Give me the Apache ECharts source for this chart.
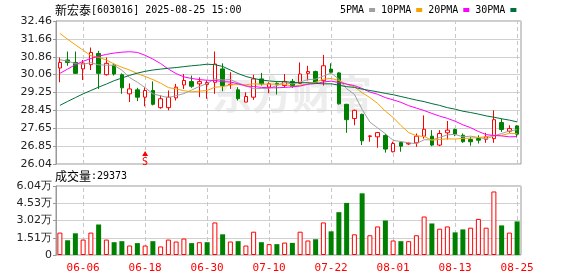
<!DOCTYPE html>
<html><head><meta charset="utf-8">
<script src="https://cdn.jsdelivr.net/npm/echarts@6/dist/echarts.min.js"></script>
<style>html,body{margin:0;padding:0;background:#fff}#c{width:578px;height:276px}</style>
</head><body><div id="c"></div>
<script>
const categories = ['06-03','06-04','06-05','06-06','06-09','06-10','06-11','06-12','06-13','06-16','06-17','06-18','06-19','06-20','06-23','06-24','06-25','06-26','06-27','06-30',
'07-01','07-02','07-03','07-04','07-07','07-08','07-09','07-10','07-11','07-14','07-15','07-16','07-17','07-18','07-21','07-22','07-23','07-24','07-25','07-28','07-29','07-30','07-31',
'08-01','08-04','08-05','08-06','08-07','08-08','08-11','08-12','08-13','08-14','08-15','08-18','08-19','08-20','08-21','08-22','08-25'];
const opens  = [30.35,30.71,30.60,30.31,30.50,31.00,30.05,30.48,30.05,29.19,29.37,29.04,29.34,28.57,28.57,29.01,29.59,29.74,29.64,29.61,29.71,30.31,29.60,29.37,28.82,29.04,29.86,29.49,29.66,29.56,29.75,29.66,30.11,30.19,29.78,30.30,30.13,28.72,28.08,28.27,27.28,27.26,27.32,26.59,27.01,26.94,26.99,27.29,27.29,26.89,27.44,27.59,27.33,27.14,27.18,27.15,27.18,27.90,27.51,27.75];
const closes = [30.60,30.60,30.11,30.57,31.05,30.11,30.56,30.08,29.46,29.41,29.04,29.34,28.72,28.97,29.04,29.49,29.79,29.53,29.74,29.70,30.53,29.56,29.62,28.97,29.07,29.86,29.64,29.64,29.61,29.75,29.52,30.08,30.19,29.71,30.45,30.16,28.74,28.03,28.45,27.08,27.30,27.45,26.71,26.96,26.84,26.97,27.29,27.60,26.89,27.41,27.56,27.38,27.04,27.04,27.11,27.26,28.03,27.59,27.63,27.38];
const lows   = [29.71,30.45,30.08,29.81,30.26,29.41,30.01,30.01,29.19,28.82,28.86,28.63,28.67,28.52,28.45,28.89,29.41,29.46,29.04,28.97,29.19,29.31,29.41,28.89,28.82,28.92,29.56,29.22,29.16,29.46,29.46,29.64,29.79,29.67,29.56,30.11,28.71,27.44,27.78,26.89,27.04,26.77,26.55,26.56,26.59,26.89,26.81,27.18,26.84,26.84,27.14,27.29,26.99,26.86,26.96,26.99,26.99,27.48,27.44,27.23];
const highs  = [30.82,31.09,31.09,30.71,31.27,31.12,30.82,30.56,30.11,29.66,29.46,29.49,29.75,29.12,29.34,29.64,30.08,30.01,29.93,29.79,31.09,30.56,30.16,29.49,29.26,30.05,30.13,29.71,29.71,30.08,29.86,30.60,30.45,30.23,30.94,30.56,30.16,28.74,28.48,28.30,27.33,27.48,27.38,27.04,27.04,27.01,27.41,28.22,27.56,27.56,27.97,27.63,27.41,27.26,27.33,27.44,28.45,28.08,27.78,27.78];
const volumes = [1.96,1.29,1.90,1.35,1.96,2.67,1.35,1.12,1.21,0.83,1.04,0.83,1.21,0.75,1.35,1.18,1.44,1.04,1.12,1.12,2.85,1.81,1.18,1.21,0.83,2.04,1.12,0.95,0.95,1.09,1.06,2.04,1.27,1.38,2.85,2.07,3.75,4.56,1.81,5.40,1.73,2.50,3.02,1.27,1.21,1.21,1.73,3.37,2.76,2.30,2.50,1.98,2.24,2.39,3.16,2.39,5.56,2.59,1.96,2.94];
const volumeUp = [1,0,0,1,1,0,1,0,0,1, 0,1,0,1,1,1,1,0,1,0, 1,0,1,0,1,1,0,1,0,1, 0,1,1,0,1,0,0,0,1,0, 1,1,0,1,0,1,1,1,0,1, 1,0,0,1,1,1,1,0,1,0];
const ma5  = [30.72,30.66,30.55,30.52,30.59,30.49,30.48,30.47,30.25,29.92,29.71,29.47,29.19,29.10,29.02,29.11,29.20,29.36,29.52,29.65,29.86,29.81,29.83,29.68,29.55,29.42,29.43,29.44,29.56,29.70,29.63,29.72,29.83,29.85,29.99,30.12,29.85,29.42,29.17,28.49,27.92,27.66,27.40,27.10,27.05,26.99,26.95,27.13,27.12,27.23,27.35,27.37,27.26,27.29,27.23,27.17,27.30,27.41,27.52,27.58];
const ma10 = [31.90,31.64,31.39,31.15,30.90,30.83,30.71,30.53,30.38,30.26,30.10,29.97,29.83,29.67,29.47,29.41,29.33,29.28,29.31,29.34,29.49,29.51,29.60,29.60,29.60,29.64,29.62,29.63,29.62,29.63,29.52,29.58,29.63,29.71,29.85,29.88,29.79,29.62,29.51,29.24,29.02,28.76,28.41,28.13,27.77,27.45,27.31,27.27,27.11,27.14,27.17,27.16,27.19,27.20,27.23,27.26,27.33,27.33,27.41,27.40];
const ma20 = [30.11,30.30,30.50,30.65,30.78,30.88,30.96,31.02,31.06,31.08,31.05,30.92,30.75,30.55,30.30,30.10,29.95,29.88,29.83,29.80,29.79,29.74,29.72,29.64,29.54,29.52,29.48,29.46,29.46,29.48,29.50,29.54,29.62,29.65,29.72,29.76,29.70,29.63,29.56,29.43,29.27,29.17,29.02,28.92,28.81,28.66,28.55,28.44,28.31,28.19,28.09,27.96,27.80,27.67,27.50,27.36,27.32,27.30,27.26,27.27];
const ma30 = [28.67,28.85,29.02,29.19,29.34,29.49,29.63,29.78,29.90,30.02,30.12,30.20,30.26,30.30,30.34,30.37,30.41,30.45,30.48,30.52,30.50,30.42,30.26,30.10,29.97,29.88,29.81,29.77,29.74,29.74,29.70,29.69,29.69,29.66,29.64,29.64,29.58,29.51,29.48,29.40,29.34,29.28,29.21,29.15,29.07,28.99,28.91,28.84,28.75,28.67,28.57,28.50,28.41,28.35,28.28,28.20,28.14,28.07,28.01,27.93];
const priceTicks = ['26.04','26.85','27.65','28.45','29.25','30.06','30.86','31.66','32.46'];
const volumeTicks = ['0','1.51万','3.02万','4.53万','6.04万'];
const dateTicks = ['06-06','06-18','06-30','07-10','07-22','08-01','08-13','08-25'];
const sellSignals = ['06-18'];
const lastVolume = 29373;

const RED = '#ff0000', GREEN = '#008000';
const mono = "'DejaVu Sans Mono', monospace";
const cjk = "'Noto Sans CJK SC', sans-serif";
const sans = "'DejaVu Sans', sans-serif";
const pMin = parseFloat(priceTicks[0]);
const pMax = parseFloat(priceTicks[priceTicks.length - 1]);
const vStep = parseFloat(volumeTicks[1]);
const vMax = parseFloat(volumeTicks[volumeTicks.length - 1]);

const candleData = categories.map((d, i) => [opens[i], closes[i], lows[i], highs[i]]);
const volData = volumes.map((v, i) => ({
  value: v,
  itemStyle: volumeUp[i] ? {color: '#ffffff', borderColor: RED, borderWidth: 1}
                         : {color: GREEN, borderColor: GREEN, borderWidth: 0}
}));
const vLines = () => ({
  silent: true, z: 1, symbol: ['none', 'none'], animation: false,
  label: {show: false},
  lineStyle: {color: '#c8c8c8', type: [4, 3], width: 1},
  emphasis: {disabled: true},
  data: dateTicks.map(d => ({xAxis: categories.indexOf(d)}))
});
const maLine = (name, data, color) => ({
  name, type: 'line', xAxisIndex: 0, yAxisIndex: 0, data, color,
  showSymbol: false, symbol: 'none', silent: true, z: 3,
  lineStyle: {width: 1, color}, emphasis: {disabled: true}
});
const yAxisCommon = {
  axisLine: {show: true, lineStyle: {color: '#999'}},
  axisTick: {show: true, length: 3, lineStyle: {color: '#999'}},
  splitLine: {show: true, lineStyle: {color: '#d0d0d0', width: 1}}
};
const titleRich = {
  fontWeight: 'normal',
  rich: {a: {fontFamily: cjk, fontSize: 12, color: '#000', fontWeight: 'normal'},
         b: {fontFamily: mono, fontSize: 10, color: '#000', fontWeight: 'normal'}}
};

const chart = echarts.init(document.getElementById('c'));
chart.setOption({
  animation: false,
  backgroundColor: '#fff',
  title: [
    {left: 55, top: 4, padding: 0, text: '{a|新宏泰}{b|[603016] 2025-08-25 15:00}', textStyle: titleRich},
    {left: 55, top: 170, padding: 0, text: '{a|成交量}{b|:' + lastVolume + '}', textStyle: titleRich}
  ],
  legend: {
    left: 340, top: 5, padding: 0, itemWidth: 6, itemHeight: 4, itemGap: 6, align: 'right',
    icon: 'rect', selectedMode: false,
    textStyle: {fontFamily: mono, fontSize: 10, color: '#000'},
    data: ['5PMA', '10PMA', '20PMA', '30PMA']
  },
  graphic: [{type: 'text', left: 212, top: 74, z: 0, silent: true,
    style: {text: '东方财富', fill: '#ededed', font: 'bold 40px "Noto Sans CJK SC"'}}],
  grid: [
    {left: 56, top: 21, width: 465, height: 143, show: true, borderColor: '#999', borderWidth: 1, outerBoundsMode: 'none'},
    {left: 56, top: 186, width: 465, height: 69, show: true, borderColor: '#999', borderWidth: 1, outerBoundsMode: 'none'}
  ],
  xAxis: [
    {type: 'category', gridIndex: 0, data: categories, boundaryGap: true,
     axisLine: {show: false}, axisTick: {show: false}, axisLabel: {show: false}, splitLine: {show: false}},
    {type: 'category', gridIndex: 1, data: categories, boundaryGap: true,
     axisLine: {show: false}, axisTick: {show: false}, splitLine: {show: false},
     axisLabel: {show: true, interval: (i, v) => dateTicks.includes(v), color: RED, fontFamily: mono, fontSize: 11, margin: 8}}
  ],
  yAxis: [
    {type: 'value', gridIndex: 0, min: pMin, max: pMax, show: false, position: 'right'},
    Object.assign({type: 'value', gridIndex: 0, min: 0, max: priceTicks.length - 1, interval: 1, position: 'left',
      axisLabel: {formatter: v => priceTicks[Math.round(v)], color: '#222', fontFamily: sans, fontSize: 11, margin: 4}}, yAxisCommon),
    Object.assign({type: 'value', gridIndex: 1, min: 0, max: vMax, interval: vStep, position: 'left',
      axisLabel: {formatter: v => volumeTicks[Math.round(v / vStep)], color: '#222', fontFamily: sans, fontSize: 11, margin: 4}}, yAxisCommon)
  ],
  series: [
    {name: 'K', type: 'candlestick', xAxisIndex: 0, yAxisIndex: 0, data: candleData, barWidth: 4, z: 2, silent: true,
     itemStyle: {color: '#ffffff', color0: GREEN, borderColor: RED, borderColor0: GREEN, borderWidth: 1},
     markLine: vLines(),
     markPoint: {
       silent: true, symbol: 'triangle', symbolSize: [6, 5], itemStyle: {color: RED},
       label: {show: true, position: 'bottom', distance: 1, formatter: 'S', color: RED, fontSize: 10, fontFamily: mono},
       data: sellSignals.map(d => ({coord: [categories.indexOf(d), pMin + 0.47]}))
     }},
    maLine('5PMA', ma5, '#a0a0a0'),
    maLine('10PMA', ma10, '#f5a300'),
    maLine('20PMA', ma20, '#ff00ff'),
    maLine('30PMA', ma30, '#00703a'),
    {name: 'VOL', type: 'bar', xAxisIndex: 1, yAxisIndex: 2, data: volData, barWidth: 5, silent: true,
     markLine: vLines()}
  ]
});
</script>
</body></html>
